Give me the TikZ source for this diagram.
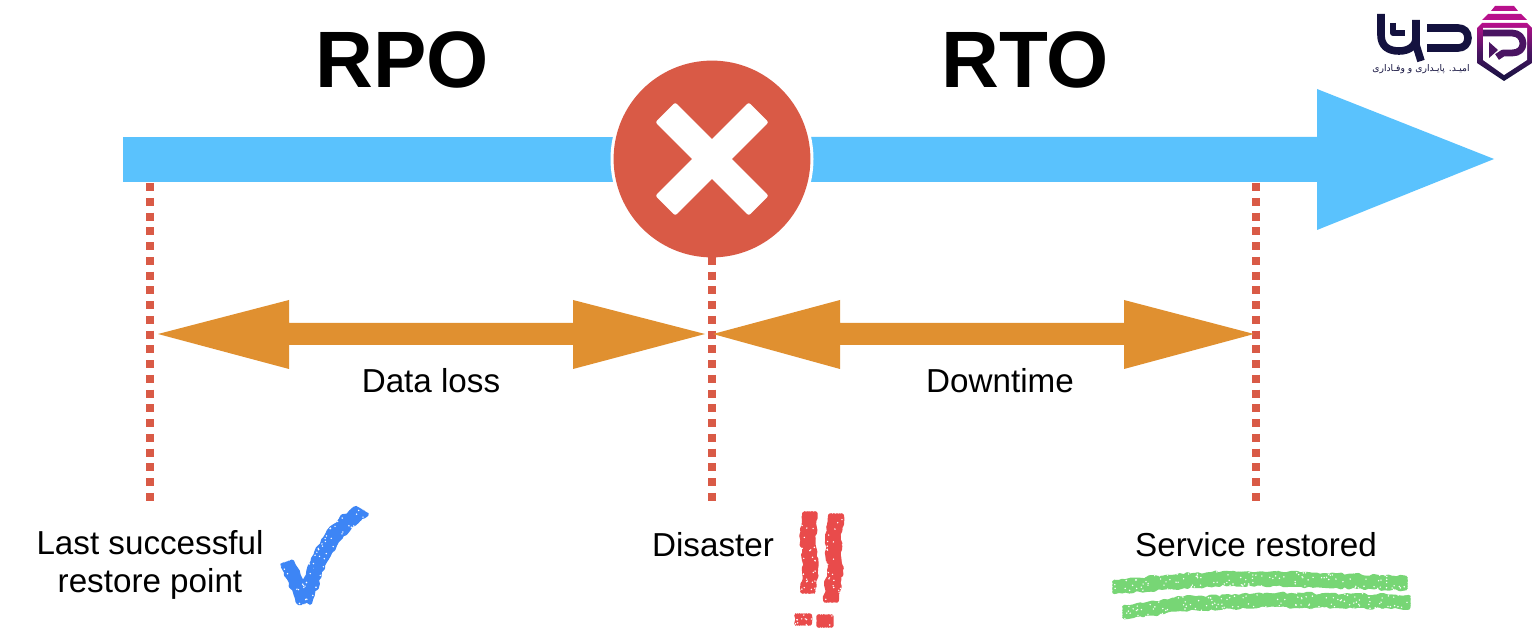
\documentclass[tikz,border=0pt]{standalone}
\usepackage{fontspec}
\setmainfont{Liberation Sans}
\newfontfamily\arabicfont[Script=Arabic]{DejaVu Sans}
\TeXXeTstate=1
\usetikzlibrary{decorations.pathmorphing,shadings}
\definecolor{barblue}{HTML}{5AC2FD}
\definecolor{disred}{HTML}{D95A46}
\definecolor{arrorange}{HTML}{E09030}
\definecolor{checkblue}{HTML}{3D85F5}
\definecolor{bangred}{HTML}{E94B4B}
\definecolor{markgreen}{HTML}{77D675}
\definecolor{logonavy}{HTML}{14123F}
\definecolor{logomag}{HTML}{B8108C}
\definecolor{logopurple}{HTML}{4A1462}
\tikzset{
  dotline/.style={disred,line width=4pt,dash pattern=on 4pt off 3.38pt},
  bartone/.style={fill=barblue,draw=none},
  orangetone/.style={fill=arrorange,draw=none},
  bigtitle/.style={font=\fontsize{40}{44}\selectfont\bfseries,inner sep=0pt},
  label/.style={font=\fontsize{16.6}{20}\selectfont,inner sep=0pt,align=center,text=black},
  rough/.style={decorate,decoration={random steps,segment length=2pt,amplitude=0.7pt},line cap=round,line join=round},
  logostroke/.style={logonavy,line width=3.8pt,line cap=butt,line join=round}
}
% \crayon{colour}{dx}{dy}{path}: rough strokes side by side
\newcommand{\crayon}[4]{%
  \foreach \k in {-1.5,-1,-0.5,0,0.5,1,1.5,-2,2}{%
    \draw[#1,rough,line width=1.9pt,shift={(\k*#2,\k*#3)}] #4;%
  }%
}
\newcommand{\specks}[5]{%
  \foreach \i in {1,...,#5}{%
    \pgfmathsetmacro{\sx}{#1+rnd*(#3-#1)}%
    \pgfmathsetmacro{\sy}{#2+rnd*(#4-#2)}%
    \fill[white] (\sx,\sy) circle (0.4pt);%
  }%
}
\begin{document}
\begin{tikzpicture}[x=0.5pt,y=-0.5pt]
\pgfmathsetseed{11}
\useasboundingbox (0,0) rectangle (1536,630);
\fill[white] (0,0) rectangle (1536,630);

% main timeline
\fill[bartone] (123,137) -- (700,137) -- (700,182) -- (123,182) -- cycle;
\fill[bartone] (720,137) -- (1317,137) -- (1317,89) -- (1494,159) -- (1317,230) -- (1317,182) -- (720,182) -- cycle;

% disaster disc halo
\node[circle,fill=white,minimum size=101.5pt,inner sep=0pt] (ring) at (712,159) {};

% dotted drop lines
\coordinate (a1) at (150,183);
\coordinate (a2) at (150,501);
\coordinate (b1) at (712,256.8);
\coordinate (b2) at (712,501);
\coordinate (c1) at (1256,183);
\coordinate (c2) at (1256,501);
\draw[dotline] (a1) -- (a2);
\draw[dotline] (b1) -- (b2);
\draw[dotline] (c1) -- (c2);

% disaster disc
\node[circle,fill=disred,minimum size=98.4pt,inner sep=0pt] (disc) at (712,159) {};
\fill[white,rounded corners=1pt,rotate around={45:(712,159)}] (646,145) rectangle (778,173);
\fill[white,rounded corners=1pt,rotate around={45:(712,159)}] (698,93) rectangle (726,225);

% orange double arrows
\fill[orangetone] (158,334) -- (289,300) -- (289,323) -- (573,323) -- (573,300) -- (705,334) -- (573,369) -- (573,345) -- (289,345) -- (289,369) -- cycle;
\fill[orangetone] (713,334) -- (840,300) -- (840,323) -- (1124,323) -- (1124,300) -- (1254,334) -- (1124,369) -- (1124,345) -- (840,345) -- (840,369) -- cycle;

% titles
\node[bigtitle] (rpo) at (402,60) {RPO};
\node[bigtitle] (rto) at (1025,60) {RTO};

% labels
\node[label] (dloss) at (431,381) {Data loss};
\node[label] (dtime) at (1000,381) {Downtime};
\node[label] (lastok) at (150,565) {Last successful\\[-1pt]restore point};
\node[label] (disaster) at (713,545) {Disaster};
\node[label] (service) at (1256,545) {Service restored};

% check mark
\crayon{checkblue}{2.6}{-0.9}{(287,563) -- (305,602)}
\crayon{checkblue}{2.6}{1.6}{(305,600) -- (318,562) -- (332,538) -- (346,522) -- (362,511)}
\specks{278}{503}{372}{612}{200}

% exclamation marks
\crayon{bangred}{2.9}{0}{(810,513) -- (808,540) -- (811,565) -- (808,592)}
\crayon{bangred}{3.0}{0}{(836,515) -- (833,540) -- (835,570) -- (831,601)}
\crayon{bangred}{3.5}{0}{(803,615) -- (803,624)}
\crayon{bangred}{3.4}{0}{(825,616) -- (825,626)}
\specks{790}{506}{848}{629}{140}

% green underlines
\crayon{markgreen}{0}{2.7}{(1114,587) -- (1167,582) -- (1233,578) -- (1317,580) -- (1406,583)}
\crayon{markgreen}{0}{2.7}{(1124,612) -- (1183,604) -- (1267,600) -- (1409,602)}
\specks{1106}{568}{1415}{624}{420}

% logo: word mark
\draw[logostroke] (1381,14) -- (1381,35) .. controls (1381,46) and (1388,51) .. (1399,51) .. controls (1409,51) and (1416,46) .. (1416,38);
\draw[logostroke] (1416,20) -- (1416,45) -- (1421,61);
\draw[logostroke,line width=3pt] (1393,23) -- (1393,33) -- (1405,33);
\draw[logostroke] (1427,28) -- (1458,28) .. controls (1464,28) and (1468,32) .. (1468,38) .. controls (1468,44) and (1464,48) .. (1458,48) -- (1427,48);
\node[inner sep=0pt,text=logonavy,font=\arabicfont\fontsize{4.6}{6}\selectfont] (tag) at (1421,69) {\beginR امیـد. پایـداری و وفـاداری\endR};

% logo: shield
\fill[logomag] (1495,6) -- (1514,6) -- (1518,11) -- (1491,11) -- cycle;
\fill[logomag] (1488,14) -- (1521,14) -- (1527,20) -- (1482,20) -- cycle;
\shade[top color=logomag,bottom color=logonavy,middle color=logopurple] (1482,23) -- (1527,23) -- (1532,28) -- (1532,63) -- (1504,81) -- (1477,63) -- (1477,28) -- cycle;
\fill[white] (1483,28) -- (1527,28) -- (1527,60) -- (1504,75) -- (1483,60) -- cycle;
\draw[logopurple,line width=3.4pt,line join=round] (1483,33) -- (1512,33) .. controls (1519,33) and (1523,38) .. (1523,43.5) .. controls (1523,49) and (1519,53) .. (1512,53) -- (1503,53) -- (1497,57);
\fill[logopurple] (1489,42) -- (1498,50) -- (1489,58) -- cycle;
\end{tikzpicture}
\end{document}
